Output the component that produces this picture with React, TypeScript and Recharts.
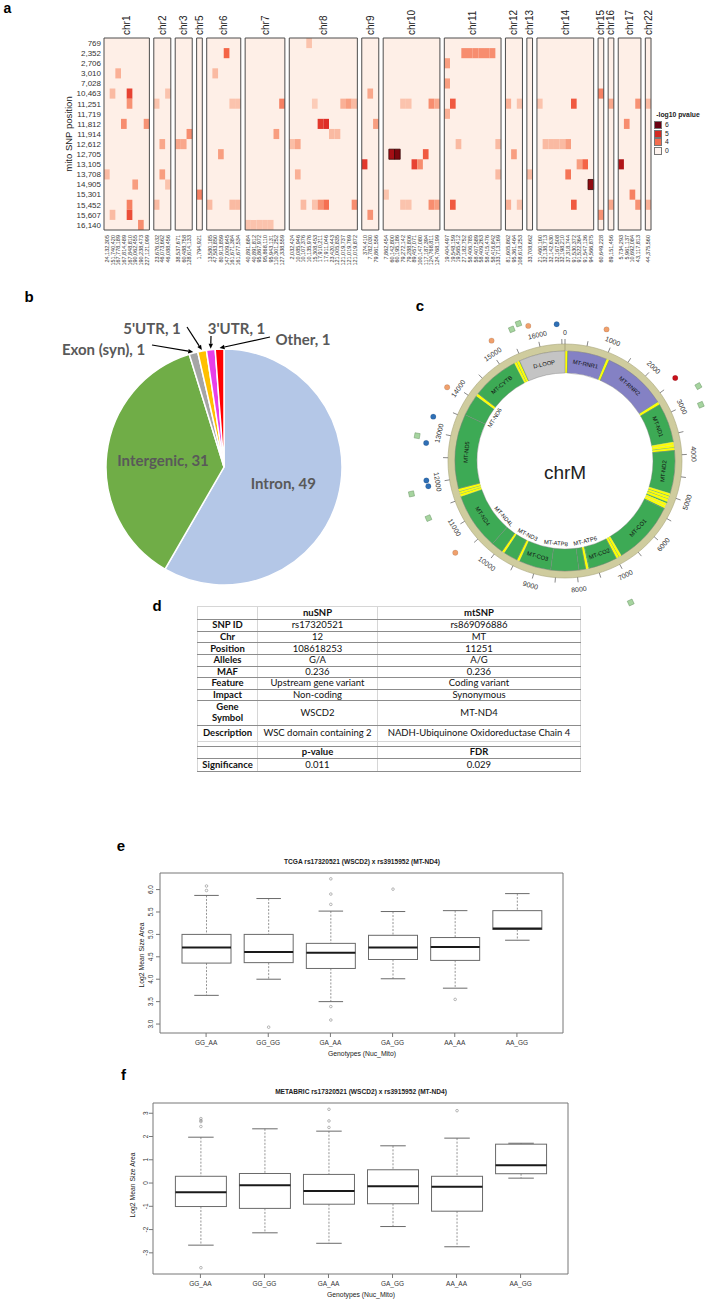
import React from 'react';
import {
  ScatterChart, Scatter, XAxis, YAxis, ReferenceArea,
  PieChart, Pie, Cell, ComposedChart, Bar,
} from 'recharts';

const SANS = "'Liberation Sans', Arial, Helvetica, sans-serif";
const CAL = "Lato, 'Open Sans', sans-serif";

/* ================= panel a : heatmap ================= */
const mitoSnpLabels = ['769', '2,352', '2,706', '3,010', '7,028', '10,463', '11,251', '11,719', '11,812', '11,914', '12,612', '12,705', '13,105', '13,708', '14,905', '15,301', '15,452', '15,607', '16,140'];
const chromosomeNames = ['chr1', 'chr2', 'chr3', 'chr5', 'chr6', 'chr7', 'chr8', 'chr9', 'chr10', 'chr11', 'chr12', 'chr13', 'chr14', 'chr15', 'chr16', 'chr17', 'chr22'];
const chr1Positions = ['24,132,305', '151,740,420', '167,778,189', '167,814,489', '167,848,810', '190,062,455', '190,238,473', '227,121,099'];
const chr2Positions = ['23,676,032', '46,073,662', '46,088,456'];
const chr3Positions = ['38,537,671', '60,488,758', '128,614,133'];
const chr5Positions = ['1,794,921'];
const chr6Positions = ['13,580,185', '47,583,850', '80,913,859', '147,009,645', '161,671,384', '161,677,534'];
const chr7Positions = ['40,891,684', '40,891,812', '95,867,972', '95,868,110', '95,943,131', '110,301,252', '127,338,559'];
const chr8Positions = ['2,032,424', '10,085,946', '10,107,376', '10,135,976', '15,308,453', '17,910,211', '17,911,046', '23,420,443', '121,005,835', '121,019,737', '121,019,769', '121,019,872'];
const chr9Positions = ['374,410', '7,782,030', '79,861,556'];
const chr10Positions = ['7,862,454', '60,142,800', '60,195,186', '79,272,142', '79,288,806', '89,457,071', '100,147,080', '117,187,394', '124,768,811', '124,768,199'];
const chr11Positions = ['19,404,497', '19,548,159', '19,565,412', '27,182,752', '58,406,785', '58,407,589', '58,409,263', '58,415,476', '58,416,842', '133,713,169'];
const chr12Positions = ['81,605,862', '95,361,464', '108,618,253'];
const chr13Positions = ['33,708,662'];
const chr14Positions = ['21,460,160', '32,138,713', '32,142,630', '32,167,508', '32,198,210', '37,318,744', '91,530,372', '91,522,364', '91,547,136', '94,566,875'];
const chr15Positions = ['60,649,228'];
const chr16Positions = ['89,151,456'];
const chr17Positions = ['5,734,293', '5,961,137', '10,692,084', '43,117,813'];
const chr22Positions = ['44,375,560'];
const chrColumns = [chr1Positions, chr2Positions, chr3Positions, chr5Positions, chr6Positions, chr7Positions, chr8Positions, chr9Positions, chr10Positions, chr11Positions, chr12Positions, chr13Positions, chr14Positions, chr15Positions, chr16Positions, chr17Positions, chr22Positions];

// [chromosome, column within chromosome, mito SNP row, -log10 p]
const heatCells: [string, number, number, number][] = [
  ['chr8', 3, 0, 2.2],
  ['chr6', 3, 1, 4.0], ['chr11', 3, 1, 3.3], ['chr11', 4, 1, 3.3], ['chr11', 5, 1, 3.3], ['chr11', 6, 1, 3.3], ['chr11', 7, 1, 3.3], ['chr11', 8, 1, 3.3],
  ['chr11', 0, 2, 3.0],
  ['chr1', 2, 3, 2.6], ['chr6', 1, 3, 2.4],
  ['chr11', 0, 4, 3.0],
  ['chr1', 1, 5, 2.4], ['chr1', 4, 5, 4.6], ['chr2', 2, 5, 2.2], ['chr9', 1, 5, 2.8], ['chr15', 0, 5, 3.5],
  ['chr1', 4, 6, 3.2], ['chr2', 0, 6, 2.2], ['chr6', 4, 6, 2.2], ['chr6', 5, 6, 2.2], ['chr7', 6, 6, 3.5], ['chr8', 4, 6, 2.0],
  ['chr8', 9, 6, 2.6], ['chr8', 10, 6, 3.0], ['chr8', 11, 6, 2.4], ['chr10', 3, 6, 2.2], ['chr10', 4, 6, 2.2], ['chr10', 8, 6, 3.3],
  ['chr10', 9, 6, 2.8], ['chr11', 1, 6, 4.2], ['chr12', 0, 6, 2.6], ['chr12', 2, 6, 2.2], ['chr14', 0, 6, 2.2], ['chr14', 6, 6, 4.2],
  ['chr16', 0, 6, 2.8], ['chr17', 3, 6, 3.2], ['chr22', 0, 6, 2.4],
  ['chr11', 0, 7, 2.6],
  ['chr1', 3, 8, 3.3], ['chr1', 7, 8, 3.2], ['chr8', 5, 8, 4.8], ['chr8', 6, 8, 5.0], ['chr9', 2, 8, 3.0], ['chr17', 1, 8, 3.3],
  ['chr3', 2, 9, 3.3], ['chr7', 5, 9, 3.0], ['chr8', 7, 9, 2.4], ['chr8', 8, 9, 2.4],
  ['chr2', 1, 10, 2.8], ['chr3', 0, 10, 2.8], ['chr3', 1, 10, 2.8], ['chr8', 0, 10, 2.3], ['chr8', 1, 10, 2.8], ['chr11', 2, 10, 2.4],
  ['chr11', 9, 10, 2.4], ['chr14', 1, 10, 2.4], ['chr14', 2, 10, 2.4], ['chr14', 3, 10, 2.4], ['chr14', 4, 10, 2.4], ['chr14', 5, 10, 3.0],
  ['chr6', 2, 11, 3.0], ['chr10', 1, 11, 6.0], ['chr10', 2, 11, 6.4], ['chr10', 7, 11, 4.2], ['chr12', 1, 11, 3.0],
  ['chr9', 0, 12, 4.8], ['chr10', 5, 12, 4.6], ['chr10', 6, 12, 3.3], ['chr14', 7, 12, 3.0], ['chr14', 8, 12, 4.0], ['chr17', 0, 12, 5.8],
  ['chr1', 0, 13, 2.4], ['chr2', 1, 13, 3.0], ['chr8', 1, 13, 2.6], ['chr11', 9, 13, 2.4], ['chr13', 0, 13, 2.4], ['chr14', 5, 13, 3.7],
  ['chr1', 5, 14, 3.0], ['chr2', 2, 14, 2.2], ['chr14', 9, 14, 6.2],
  ['chr5', 0, 15, 3.5], ['chr10', 0, 15, 2.2], ['chr17', 2, 15, 3.5],
  ['chr1', 4, 16, 3.5], ['chr2', 0, 16, 2.4], ['chr6', 0, 16, 2.4], ['chr6', 4, 16, 2.4], ['chr6', 5, 16, 2.4], ['chr8', 2, 16, 2.4],
  ['chr8', 4, 16, 2.2], ['chr8', 5, 16, 3.2], ['chr8', 6, 16, 3.8], ['chr8', 11, 16, 3.3], ['chr10', 3, 16, 2.2], ['chr10', 4, 16, 2.2],
  ['chr10', 8, 16, 3.3], ['chr10', 9, 16, 3.0], ['chr11', 1, 16, 4.2], ['chr12', 0, 16, 2.6], ['chr12', 2, 16, 2.2], ['chr14', 6, 16, 4.2],
  ['chr16', 0, 16, 2.8], ['chr17', 3, 16, 3.2], ['chr22', 0, 16, 2.6],
  ['chr1', 1, 17, 2.4], ['chr1', 4, 17, 4.4], ['chr9', 1, 17, 3.2], ['chr15', 0, 17, 3.2],
  ['chr1', 6, 18, 3.3], ['chr7', 0, 18, 2.2], ['chr7', 1, 18, 2.2], ['chr7', 2, 18, 2.2], ['chr7', 3, 18, 2.2], ['chr7', 4, 18, 2.2],
];
const legendLevels = ['6', '5', '4', '0'];
const legendColors = ['#6b0011', '#d42a22', '#f46d4f', '#fff4ef'];

const HEAT_STOPS: [number, number[]][] = [
  [0, [254, 239, 231]], [2, [252, 204, 184]], [3, [248, 158, 128]], [4, [244, 100, 70]],
  [5, [222, 45, 38]], [6, [165, 15, 21]], [6.5, [112, 4, 12]],
];
function heatColor(v: number) {
  for (let i = 1; i < HEAT_STOPS.length; i++) {
    const [v1, c1] = HEAT_STOPS[i];
    const [v0, c0] = HEAT_STOPS[i - 1];
    if (v <= v1) {
      const t = (v - v0) / (v1 - v0);
      return `rgb(${c0.map((c, k) => Math.round(c + (c1[k] - c) * t)).join(',')})`;
    }
  }
  return 'rgb(112,4,12)';
}

const GAP = 0.776;
const chrStart: number[] = [];
(() => {
  let acc = 0;
  chrColumns.forEach((cols, i) => { chrStart.push(acc + i * GAP); acc += cols.length; });
})();
const TOTAL_UNITS = chrStart[chrStart.length - 1] + chrColumns[chrColumns.length - 1].length;
const colTicks: number[] = [];
const colTickLabels: string[] = [];
chrColumns.forEach((cols, i) => cols.forEach((lab, j) => { colTicks.push(chrStart[i] + j + 0.5); colTickLabels.push(lab); }));
const chrTicks = chromosomeNames.map((_, i) => chrStart[i] + chrColumns[i].length / 2);
const rowTicks = mitoSnpLabels.map((_, i) => i);

function findIdx(arr: number[], v: number) {
  let best = 0;
  arr.forEach((a, i) => { if (Math.abs(a - v) < Math.abs(arr[best] - v)) best = i; });
  return best;
}

const ColTick = (p: any) => {
  const lab = colTickLabels[findIdx(colTicks, p.payload.value)];
  return (
    <text x={p.x} y={p.y} transform={`rotate(-90 ${p.x} ${p.y})`} textAnchor="end" dy={2} fontSize={5.5} fontFamily={SANS} fill="#333">{lab}</text>
  );
};
const ChrTick = (p: any) => {
  const lab = chromosomeNames[findIdx(chrTicks, p.payload.value)];
  return (
    <text x={p.x} y={p.y} transform={`rotate(-90 ${p.x} ${p.y})`} textAnchor="start" dy={3.5} fontSize={10} fontFamily={SANS} fill="#222">{lab}</text>
  );
};

function Heatmap() {
  const cellPoints = heatCells.map(([c, col, row]) => ({ x: chrStart[chromosomeNames.indexOf(c)] + col + 0.5, y: row }));
  return (
    <div style={{ position: 'absolute', left: 0, top: 0 }}>
      <ScatterChart width={706} height={300} margin={{ top: 8, right: 55, bottom: 10, left: 60 }}>
        <XAxis xAxisId="col" type="number" dataKey="x" domain={[0, TOTAL_UNITS]} allowDataOverflow ticks={colTicks} interval={0}
          tick={ColTick} tickLine={false} axisLine={false} height={60} tickSize={0} tickMargin={5} />
        <XAxis xAxisId="chr" orientation="top" type="number" dataKey="x" domain={[0, TOTAL_UNITS]} allowDataOverflow ticks={chrTicks} interval={0}
          tick={ChrTick} tickLine={false} axisLine={false} height={30} tickSize={0} tickMargin={3} />
        <YAxis yAxisId="row" type="number" dataKey="y" domain={[-0.5, 18.5]} allowDataOverflow reversed ticks={rowTicks} interval={0}
          tickFormatter={(v: number) => mitoSnpLabels[v] ?? ''} tick={{ fontSize: 8, fill: '#333', fontFamily: SANS }}
          tickLine={false} axisLine={false} width={44} tickSize={0} tickMargin={3} />
        <Scatter xAxisId="col" yAxisId="row" data={cellPoints} shape={() => <g />} isAnimationActive={false} />
        <Scatter xAxisId="chr" yAxisId="row" data={cellPoints} shape={() => <g />} isAnimationActive={false} />
        {chromosomeNames.map((c, i) => (
          <ReferenceArea key={'bg' + c} xAxisId="col" yAxisId="row" x1={chrStart[i]} x2={chrStart[i] + chrColumns[i].length}
            y1={-0.5} y2={18.5} fill={heatColor(0)} fillOpacity={1} stroke="none" ifOverflow="visible" />
        ))}
        {heatCells.map(([c, col, row, v], k) => {
          const s = chrStart[chromosomeNames.indexOf(c)] + col;
          return (
            <ReferenceArea key={'cell' + k} xAxisId="col" yAxisId="row" x1={s} x2={s + 1} y1={row - 0.5} y2={row + 0.5}
              fill={heatColor(v)} fillOpacity={1} stroke={v >= 6 ? '#3a0a0a' : 'none'} strokeWidth={0.8} ifOverflow="visible" />
          );
        })}
        {chromosomeNames.map((c, i) => (
          <ReferenceArea key={'bd' + c} xAxisId="col" yAxisId="row" x1={chrStart[i]} x2={chrStart[i] + chrColumns[i].length}
            y1={-0.5} y2={18.5} fill="none" fillOpacity={0} stroke="#4d4d4d" strokeWidth={1} ifOverflow="visible" />
        ))}
      </ScatterChart>
    </div>
  );
}

function HeatLegend() {
  const tops = [121, 129.5, 138, 147];
  return (
    <>
      <Txt x={678} y={115} size={6.8} bold>-log10 pvalue</Txt>
      {legendLevels.map((l, i) => (
        <React.Fragment key={l}>
          <div style={{ position: 'absolute', left: 654, top: tops[i], width: 8, height: 8, boxSizing: 'border-box', background: legendColors[i], border: '0.6px solid #777' }} />
          <Txt x={665} y={tops[i] + 4} size={6.8} anchor="start">{l}</Txt>
        </React.Fragment>
      ))}
    </>
  );
}

/* ================= panel b : pie ================= */
const annotationNames = ['Intron', 'Intergenic', 'Exon (syn)', "5'UTR", "3'UTR", 'Other'];
const annotationCounts = [49, 31, 1, 1, 1, 1];
const annotationColors = ['#b4c7e7', '#70ad47', '#a5a5a5', '#ffc000', '#e83ee8', '#ff0000'];
const pieLabelLayout: Record<string, { tx: number; ty: number; sx: number; sy: number }> = {
  'Exon (syn)': { tx: -120.5, ty: -118, sx: -72, sy: -122 },
  "5'UTR": { tx: -72, ty: -139, sx: -37, sy: -140 },
  "3'UTR": { tx: 12.5, ty: -139, sx: -13, sy: -131 },
  Other: { tx: 79, ty: -128, sx: 46, sy: -130 },
};

function renderPieLabel(p: any) {
  const RAD = Math.PI / 180;
  const name = annotationNames[p.index];
  const value = annotationCounts[p.index];
  const lay = pieLabelLayout[name];
  const style = { fontFamily: CAL, fontWeight: 700, fontSize: 15, fill: '#595959' } as any;
  if (!lay) {
    const r = p.outerRadius * 0.52;
    const x = p.cx + r * Math.cos(-p.midAngle * RAD);
    const y = p.cy + r * Math.sin(-p.midAngle * RAD);
    return <text x={x} y={y} textAnchor="middle" dominantBaseline="central" style={style}>{`${name}, ${value}`}</text>;
  }
  const tipR = p.outerRadius + 1;
  const ex = p.cx + tipR * Math.cos(-p.midAngle * RAD);
  const ey = p.cy + tipR * Math.sin(-p.midAngle * RAD);
  const sx = p.cx + lay.sx, sy = p.cy + lay.sy;
  const dx = ex - sx, dy = ey - sy, len = Math.hypot(dx, dy);
  const ux = dx / len, uy = dy / len;
  const bx = ex - ux * 5, by = ey - uy * 5;
  return (
    <g>
      <text x={p.cx + lay.tx} y={p.cy + lay.ty} textAnchor="middle" dominantBaseline="central" style={style}>{`${name}, ${value}`}</text>
      <line x1={sx} y1={sy} x2={bx} y2={by} stroke="#000" strokeWidth={1.2} />
      <polygon points={`${ex},${ey} ${bx - uy * 2.2},${by + ux * 2.2} ${bx + uy * 2.2},${by - ux * 2.2}`} fill="#000" />
    </g>
  );
}

function AnnotationPie() {
  const data = annotationNames.map((n, i) => ({ name: n, value: annotationCounts[i] }));
  return (
    <div style={{ position: 'absolute', left: 40, top: 310 }}>
      <PieChart width={330} height={300} margin={{ top: 0, right: 0, bottom: 0, left: 0 }}>
        <Pie data={data} dataKey="value" nameKey="name" cx={184} cy={157} outerRadius={118} startAngle={90} endAngle={-270}
          stroke="#fff" strokeWidth={1.5} label={renderPieLabel} labelLine={false} isAnimationActive={false}>
          {data.map((d, i) => <Cell key={d.name} fill={annotationColors[i]} />)}
        </Pie>
      </PieChart>
    </div>
  );
}

/* ================= panel c : chrM circle ================= */
const MT_LENGTH = 16569;
const mtGeneNames = ['MT-RNR1', 'MT-RNR2', 'MT-ND1', 'MT-ND2', 'MT-CO1', 'MT-CO2', 'MT-ATP8', 'MT-ATP6', 'MT-CO3', 'MT-ND3', 'MT-ND4L', 'MT-ND4', 'MT-ND5', 'MT-ND6', 'MT-CYTB', 'D-LOOP'];
const mtGeneStarts = [71, 1094, 2730, 3893, 5327, 7009, 7789, 7950, 8630, 9482, 9893, 10183, 11760, 13571, 14170, 15447];
const mtGeneEnds = [1024, 2652, 3685, 4934, 6868, 7692, 7950, 8630, 9413, 9827, 10183, 11560, 13571, 14096, 15310, 16569];
const mtTrnaStarts = [0, 1025, 2653, 3686, 3752, 3825, 4935, 5010, 5080, 5184, 5249, 6869, 6941, 7718, 9414, 9828, 11561, 11630, 11689, 14097, 15311, 15379];
const mtTrnaEnds = [70, 1093, 2727, 3752, 3823, 3892, 5002, 5078, 5152, 5249, 5314, 6937, 7008, 7787, 9481, 9892, 11629, 11688, 11759, 14165, 15376, 15446];
// inner gene labels are spread along the circle (label anchor, in chrM coordinates)
const innerGeneLabelAt: Record<string, number> = { 'MT-ND6': 13877, 'MT-ND4L': 10490, 'MT-ND3': 9523, 'MT-ATP8': 8577, 'MT-ATP6': 7633 };
const mtMajorTicks = [0, 1000, 2000, 3000, 4000, 5000, 6000, 7000, 8000, 9000, 10000, 11000, 12000, 13000, 14000, 15000, 16000];
const mtMinorTicks = [500, 1500, 2500, 3500, 4500, 5500, 6500, 7500, 8500, 9500, 10500, 11500, 12500, 13500, 14500, 15500, 16500];
const mtSnpPositions = [16408, 15869, 15124, 806, 2440, 13900, 13283, 12767, 12059, 11944, 10590];
const mtSnpTrack = [137, 140, 141, 138, 138, 139, 139, 140, 140, 139, 143];
const mtSnpGroup = ['blue', 'orange', 'orange', 'orange', 'red', 'orange', 'blue', 'blue', 'blue', 'blue', 'orange'];
const mtSquarePositions = [15556, 15708, 2793, 3107, 12873, 11870, 11382, 7138];
const mtSquareTrack = [142, 145, 153, 147, 150, 157, 148, 156];
const snpGroupColors: Record<string, string> = { blue: '#2f6fb5', orange: '#f0a06c', red: '#c8101a' };

type Seg = { name: string; value: number; kind: string };
const mtSegments: Seg[] = [];
(() => {
  const feats = [
    ...mtGeneNames.map((n, i) => ({ name: n, s: mtGeneStarts[i], e: mtGeneEnds[i], kind: n.startsWith('MT-RNR') ? 'rRNA' : n === 'D-LOOP' ? 'dloop' : 'coding' })),
    ...mtTrnaStarts.map((s, i) => ({ name: 'tRNA', s, e: mtTrnaEnds[i], kind: 'tRNA' })),
  ].sort((a, b) => a.s - b.s);
  let cur = 0;
  feats.forEach((f) => {
    const s = Math.max(f.s, cur);
    if (s > cur) mtSegments.push({ name: 'gap', value: s - cur, kind: 'gap' });
    if (f.e > s) mtSegments.push({ name: f.name, value: f.e - s, kind: f.kind });
    cur = Math.max(cur, f.e);
  });
  if (cur < MT_LENGTH) mtSegments.push({ name: 'gap', value: MT_LENGTH - cur, kind: 'gap' });
})();
const segFill: Record<string, string> = { tRNA: '#ffff00', rRNA: '#8481c4', dloop: '#c4c4c4', coding: '#3daa55', gap: '#3daa55' };
const segStroke: Record<string, string> = { tRNA: '#d9d98a', rRNA: '#7b7b7b', dloop: '#7b7b7b', coding: '#7b7b7b', gap: '#3daa55' };

function readableRotation(theta: number) {
  let t = ((theta % 360) + 360) % 360;
  if (t > 90 && t < 270) t -= 180;
  return t;
}
function polar(pos: number, r: number) {
  const th = (pos / MT_LENGTH) * 2 * Math.PI;
  return { x: r * Math.sin(th), y: r * Math.cos(th), theta: (pos / MT_LENGTH) * 360 };
}

function geneLabel(p: any) {
  const seg = mtSegments[p.index];
  if (!seg || seg.kind === 'tRNA' || seg.kind === 'gap') return <g />;
  const innerAt = innerGeneLabelAt[seg.name];
  const inner = innerAt !== undefined;
  const theta = inner ? (innerAt / MT_LENGTH) * 360 : 90 - p.midAngle;
  const rr = inner ? p.innerRadius - 5.5 : (p.innerRadius + p.outerRadius) / 2;
  const rad = (theta * Math.PI) / 180;
  const x = p.cx + rr * Math.sin(rad), y = p.cy - rr * Math.cos(rad);
  return (
    <text x={x} y={y} transform={`rotate(${readableRotation(theta)} ${x} ${y})`} textAnchor="middle" dominantBaseline="central"
      fontSize={5.8} fontFamily={SANS} fill="#111">{seg.name}</text>
  );
}

const TickShape = (p: any) => {
  const th = (p.payload.theta * Math.PI) / 180;
  const s = Math.sin(th), c = Math.cos(th);
  return <line x1={p.cx - 2.5 * s} y1={p.cy + 2.5 * c} x2={p.cx + 2.5 * s} y2={p.cy - 2.5 * c} stroke="#555" strokeWidth={0.7} />;
};
const TickLabelShape = (p: any) => (
  <text x={p.cx} y={p.cy} transform={`rotate(${readableRotation(p.payload.theta)} ${p.cx} ${p.cy})`} textAnchor="middle"
    dominantBaseline="central" fontSize={7} fontFamily={SANS} fill="#333">{p.payload.label}</text>
);
const CircleShape = (p: any) => (
  <circle cx={p.cx} cy={p.cy} r={2.7} fill={snpGroupColors[p.payload.group]} stroke="rgba(0,0,0,0.25)" strokeWidth={0.4} />
);
const SquareShape = (p: any) => (
  <rect x={p.cx - 2.6} y={p.cy - 2.6} width={5.2} height={5.2} fill="#a6d49f" stroke="#6f9b6b" strokeWidth={0.5}
    transform={`rotate(${p.payload.theta} ${p.cx} ${p.cy})`} />
);

function ChrMCircle() {
  const tickPts = mtMajorTicks.concat(mtMinorTicks).map((p) => polar(p, 119.5));
  const labelPts = mtMajorTicks.map((p) => ({ ...polar(p, 129), label: String(p) }));
  const circlePts = mtSnpPositions.map((p, i) => ({ ...polar(p, mtSnpTrack[i]), group: mtSnpGroup[i] }));
  const squarePts = mtSquarePositions.map((p, i) => polar(p, mtSquareTrack[i]));
  return (
    <>
      <div style={{ position: 'absolute', left: 405, top: 281 }}>
        <PieChart width={300} height={360} margin={{ top: 0, right: 0, bottom: 0, left: 0 }}>
          <Pie data={[{ name: 'ring', value: 1 }]} dataKey="value" cx={160} cy={180} innerRadius={110} outerRadius={117}
            startAngle={90} endAngle={-270} fill="#cfcc9e" stroke="#a9a67c" strokeWidth={0.6} isAnimationActive={false} />
          <Pie data={mtSegments} dataKey="value" nameKey="name" cx={160} cy={180} innerRadius={88} outerRadius={110}
            startAngle={90} endAngle={-270} label={geneLabel} labelLine={false} isAnimationActive={false}>
            {mtSegments.map((s, i) => <Cell key={i} fill={segFill[s.kind]} stroke={segStroke[s.kind]} strokeWidth={0.4} />)}
          </Pie>
        </PieChart>
      </div>
      <div style={{ position: 'absolute', left: 405, top: 281 }}>
        <ScatterChart width={300} height={360} margin={{ top: 0, right: 0, bottom: 0, left: 0 }}>
          <XAxis type="number" dataKey="x" domain={[-160, 140]} allowDataOverflow hide />
          <YAxis type="number" dataKey="y" domain={[-180, 180]} allowDataOverflow hide />
          <Scatter data={tickPts} shape={TickShape} isAnimationActive={false} />
          <Scatter data={labelPts} shape={TickLabelShape} isAnimationActive={false} />
          <Scatter data={squarePts} shape={SquareShape} isAnimationActive={false} />
          <Scatter data={circlePts} shape={CircleShape} isAnimationActive={false} />
        </ScatterChart>
      </div>
      <Txt x={565} y={472} size={19}>chrM</Txt>
    </>
  );
}

/* ================= panel d : table ================= */
const tableHeader = ['', 'nuSNP', 'mtSNP'];
const tableRows = [
  ['SNP ID', 'rs17320521', 'rs869096886'],
  ['Chr', '12', 'MT'],
  ['Position', '108618253', '11251'],
  ['Alleles', 'G/A', 'A/G'],
  ['MAF', '0.236', '0.236'],
  ['Feature', 'Upstream gene variant', 'Coding variant'],
  ['Impact', 'Non-coding', 'Synonymous'],
  ['Gene Symbol', 'WSCD2', 'MT-ND4'],
  ['Description', 'WSC domain containing 2', 'NADH-Ubiquinone Oxidoreductase Chain 4'],
];
const significanceHeader = ['', 'p-value', 'FDR'];
const significanceRow = ['Significance', '0.011', '0.029'];

function SnpTable() {
  const heights = [13.3, 10.7, 11.7, 11.6, 11.7, 11, 11.3, 11.7, 24.3, 16.7, 5, 11.7, 13.3];
  const rows: { cells: string[]; header: boolean }[] = [
    { cells: tableHeader, header: true },
    ...tableRows.map((r) => ({ cells: r, header: false })),
    { cells: ['', '', ''], header: false },
    { cells: significanceHeader, header: true },
    { cells: significanceRow, header: false },
  ];
  const widths = [60, 120, 203];
  return (
    <table style={{ position: 'absolute', left: 197, top: 606, width: 383, borderCollapse: 'collapse', tableLayout: 'fixed', fontFamily: CAL, fontSize: 9.5, color: '#111' }}>
      <colgroup>{widths.map((w, i) => <col key={i} style={{ width: w }} />)}</colgroup>
      <tbody>
        {rows.map((r, ri) => (
          <tr key={ri} style={{ height: heights[ri] }}>
            {r.cells.map((c, ci) => (
              <td key={ci} style={{
                padding: 0, textAlign: 'center', verticalAlign: 'middle', lineHeight: 1.1,
                fontWeight: r.header || ci === 0 ? 700 : 400,
                borderTop: ri === 0 ? '1px solid #d6d6d6' : undefined,
                borderBottom: ri === 9 ? '1px solid #d6d6d6' : '1px solid #8c8c8c',
                borderLeft: '1px solid #d6d6d6', borderRight: '1px solid #d6d6d6',
                whiteSpace: 'pre-line', overflow: 'hidden',
              }}>{ci === 0 && c === 'Gene Symbol' ? 'Gene\nSymbol' : c}</td>
            ))}
          </tr>
        ))}
      </tbody>
    </table>
  );
}

/* ================= panels e, f : box plots ================= */
const genotypes = ['GG_AA', 'GG_GG', 'GA_AA', 'GA_GG', 'AA_AA', 'AA_GG'];
const tcgaLower = [3.64, 4.0, 3.5, 4.01, 3.8, 4.87];
const tcgaQ1 = [4.36, 4.37, 4.24, 4.44, 4.42, 5.11];
const tcgaMedian = [4.71, 4.61, 4.59, 4.71, 4.72, 5.13];
const tcgaQ3 = [5.0, 5.0, 4.8, 4.98, 4.93, 5.53];
const tcgaUpper = [5.87, 5.8, 5.52, 5.51, 5.53, 5.91];
const tcgaOutliers = [[6.08, 5.98], [2.93], [6.24, 5.9, 5.67, 3.39, 3.09], [6.01], [3.55], []];
const tcgaTicks = [3.0, 3.5, 4.0, 4.5, 5.0, 5.5, 6.0];
const metaLower = [-2.67, -2.14, -2.59, -1.87, -2.74, 0.21];
const metaQ1 = [-1.01, -1.09, -0.91, -0.89, -1.21, 0.4];
const metaMedian = [-0.4, -0.09, -0.34, -0.14, -0.16, 0.76];
const metaQ3 = [0.29, 0.41, 0.37, 0.57, 0.29, 1.67];
const metaUpper = [1.97, 2.33, 2.23, 1.6, 1.93, 1.71];
const metaOutliers = [[2.77, 2.69, 2.64, 2.43, -3.64], [], [3.17, 2.67, 2.39], [], [3.11], []];
const metaTicks = [-3, -2, -1, 0, 1, 2, 3];

function buildBoxData(lo: number[], q1: number[], med: number[], q3: number[], hi: number[], out: number[][]) {
  return genotypes.map((g, i) => ({ g, range: [lo[i], hi[i]], lo: lo[i], hi: hi[i], q1: q1[i], q3: q3[i], med: med[i], out: out[i] }));
}

// the bar spans lower..upper whisker (library scale); box, median and outliers follow that same linear scale
const BoxWhiskerShape = (p: any) => {
  const d = p.payload;
  const top = Math.min(p.y, p.y + p.height), bot = Math.max(p.y, p.y + p.height);
  const toY = (v: number) => top + ((d.hi - v) / (d.hi - d.lo)) * (bot - top);
  const cx = p.x + p.width / 2;
  const half = p.width / 4;
  const yq3 = toY(d.q3), yq1 = toY(d.q1), ym = toY(d.med);
  return (
    <g>
      <line x1={cx} y1={top} x2={cx} y2={yq3} stroke="#7a7a7a" strokeWidth={0.8} strokeDasharray="2 1.5" />
      <line x1={cx} y1={yq1} x2={cx} y2={bot} stroke="#7a7a7a" strokeWidth={0.8} strokeDasharray="2 1.5" />
      <line x1={cx - half} y1={top} x2={cx + half} y2={top} stroke="#6a6a6a" strokeWidth={1} />
      <line x1={cx - half} y1={bot} x2={cx + half} y2={bot} stroke="#6a6a6a" strokeWidth={1} />
      <rect x={p.x} y={yq3} width={p.width} height={yq1 - yq3} fill="#fff" stroke="#6a6a6a" strokeWidth={1} />
      <line x1={p.x} y1={ym} x2={p.x + p.width} y2={ym} stroke="#1a1a1a" strokeWidth={2} />
      {d.out.map((v: number, k: number) => <circle key={k} cx={cx} cy={toY(v)} r={1.3} fill="none" stroke="#888" strokeWidth={0.6} />)}
    </g>
  );
};

function BoxPlot(props: any) {
  const { left, top, width, height, margin, yWidth, xHeight, pad, barSize, domain, ticks, fmt, yTickMargin, data } = props;
  const YTick = (p: any) => (
    <text x={p.x} y={p.y} transform={`rotate(-90 ${p.x} ${p.y})`} textAnchor="middle" fontSize={6.5} fontFamily={SANS} fill="#333">
      {fmt(p.payload.value)}
    </text>
  );
  return (
    <div style={{ position: 'absolute', left, top }}>
      <ComposedChart width={width} height={height} data={data} margin={margin}>
        <XAxis xAxisId="main" dataKey="g" type="category" padding={{ left: pad, right: pad }} interval={0} tickSize={4} tickMargin={3}
          height={xHeight} stroke="#777" tick={{ fontSize: 6.5, fill: '#333', fontFamily: SANS }} />
        <XAxis xAxisId="frame" orientation="top" dataKey="g" type="category" tick={false} tickLine={false} height={1} stroke="#777" />
        <YAxis yAxisId="v" type="number" domain={domain} allowDataOverflow ticks={ticks} interval={0} tickSize={4} tickMargin={yTickMargin}
          width={yWidth} stroke="#777" tick={YTick} />
        <YAxis yAxisId="frameR" orientation="right" type="number" domain={domain} allowDataOverflow tick={false} tickLine={false} width={1} stroke="#777" />
        <Bar xAxisId="main" yAxisId="v" dataKey="range" barSize={barSize} shape={BoxWhiskerShape} isAnimationActive={false} />
      </ComposedChart>
    </div>
  );
}

/* ================= helpers ================= */
function Txt({ x, y, children, size = 10, bold = false, rotate = 0, family = SANS, color = '#222', anchor = 'middle' }: any) {
  const tx = anchor === 'middle' ? '-50%' : anchor === 'end' ? '-100%' : '0%';
  return (
    <div style={{
      position: 'absolute', left: x, top: y, transform: `translate(${tx},-50%) rotate(${rotate}deg)`,
      fontSize: size, fontWeight: bold ? 700 : 400, fontFamily: family, color, whiteSpace: 'nowrap', lineHeight: 1,
    }}>{children}</div>
  );
}

export default function App() {
  const tcgaData = buildBoxData(tcgaLower, tcgaQ1, tcgaMedian, tcgaQ3, tcgaUpper, tcgaOutliers);
  const metaData = buildBoxData(metaLower, metaQ1, metaMedian, metaQ3, metaUpper, metaOutliers);
  return (
    <div style={{ position: 'absolute', left: 0, top: 0, width: 706, height: 1301, overflow: 'hidden', background: '#fff', fontFamily: SANS }}>
      <Txt x={7.5} y={8} size={14} bold color="#000">a</Txt>
      <Heatmap />
      <Txt x={69} y={134} size={9.5} rotate={-90}>mito SNP position</Txt>
      <HeatLegend />

      <Txt x={29} y={296} size={15} bold color="#000">b</Txt>
      <AnnotationPie />

      <Txt x={420} y={305} size={15} bold color="#000">c</Txt>
      <ChrMCircle />

      <Txt x={157} y={604.5} size={15} bold color="#000">d</Txt>
      <SnpTable />

      <Txt x={121} y={845} size={15} bold color="#000">e</Txt>
      <Txt x={362} y={862} size={6.6} bold>TCGA rs17320521 (WSCD2) x rs3915952 (MT-ND4)</Txt>
      <Txt x={141.5} y={955} size={6.8} rotate={-90}>Log2 Mean Size Area</Txt>
      <Txt x={362} y={1054} size={6.8}>Genotypes (Nuc_Mito)</Txt>
      <BoxPlot left={100} top={845} width={480} height={225} margin={{ top: 27, right: 16, bottom: 7, left: 22 }} yWidth={38} xHeight={30}
        pad={15} barSize={49} domain={[2.8, 6.37]} ticks={tcgaTicks} fmt={(v: number) => v.toFixed(1)} yTickMargin={3} data={tcgaData} />

      <Txt x={123.5} y={1074} size={15} bold color="#000">f</Txt>
      <Txt x={361} y={1092} size={6.6} bold>METABRIC rs17320521 (WSCD2) x rs3915952 (MT-ND4)</Txt>
      <Txt x={133} y={1185} size={6.8} rotate={-90}>Log2 Mean Size Area</Txt>
      <Txt x={361} y={1295} size={6.8}>Genotypes (Nuc_Mito)</Txt>
      <BoxPlot left={95} top={1068} width={490} height={233} margin={{ top: 34, right: 16, bottom: 0, left: 20 }} yWidth={38} xHeight={27}
        pad={15.4} barSize={51} domain={[-3.91, 3.44]} ticks={metaTicks} fmt={(v: number) => String(v)} yTickMargin={1} data={metaData} />
    </div>
  );
}
